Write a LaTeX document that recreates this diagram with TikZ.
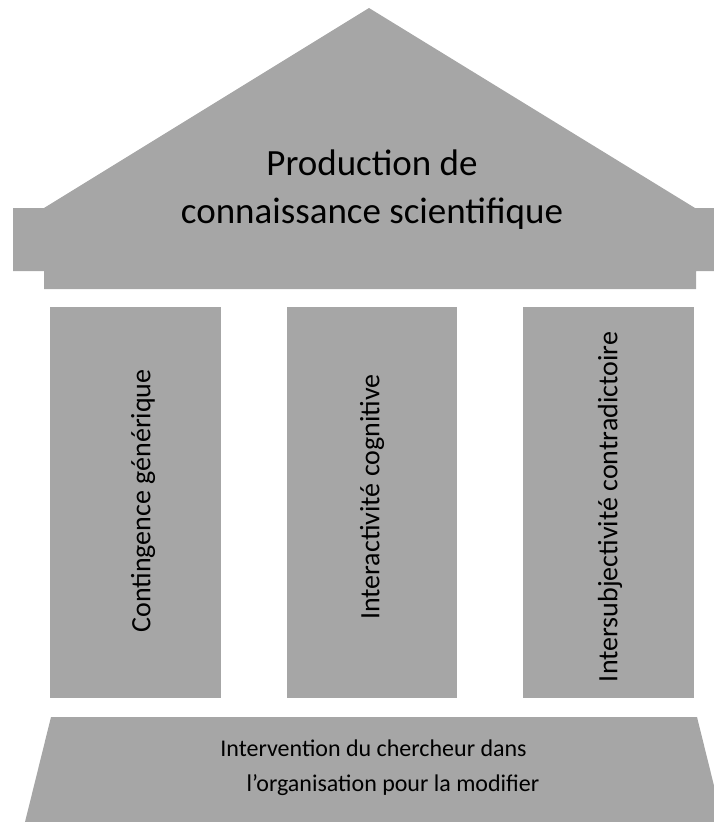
\documentclass[tikz,border=0pt]{standalone}
\usepackage{fontspec}
\setmainfont{Carlito}
\definecolor{stone}{HTML}{A6A6A6}
\begin{document}
\begin{tikzpicture}[x=1pt,y=-1pt,
  part/.style={fill=stone,draw=none},
  pillartext/.style={rotate=90,font=\fontsize{28}{34}\selectfont,anchor=center},
  roofttext/.style={font=\fontsize{37}{48}\selectfont,align=center},
  basetext/.style={font=\fontsize{24}{35}\selectfont,align=center}]
\useasboundingbox (0,0) rectangle (714,822);
\clip (0,0) rectangle (714,822);
% roof
\path[part] (44,208) -- (369,8) -- (695,208) -- (716,208) -- (716,271) -- (696,271)
  -- (696,289) -- (44,289) -- (44,271) -- (13,271) -- (13,208) -- cycle;
% pillars
\path[part] (50,307) rectangle (221,698);
\path[part] (287,307) rectangle (457,698);
\path[part] (523,307) rectangle (694,698);
% base
\path[part] (51,717) -- (697,717) -- (723,822) -- (25,822) -- cycle;
% texts
\node[roofttext] (roof) at (372,190) {Production de\\connaissance scientifique};
\node[pillartext] (p1) at (143,501) {Contingence générique};
\node[pillartext] (p2) at (372,497) {Interactivité cognitive};
\node[pillartext] (p3) at (610,507) {Intersubjectivité contradictoire};
\node[basetext] (base) at (393,768) {Intervention du chercheur dans\hspace*{39pt}\\l’organisation pour la modifier};
\end{tikzpicture}
\end{document}
